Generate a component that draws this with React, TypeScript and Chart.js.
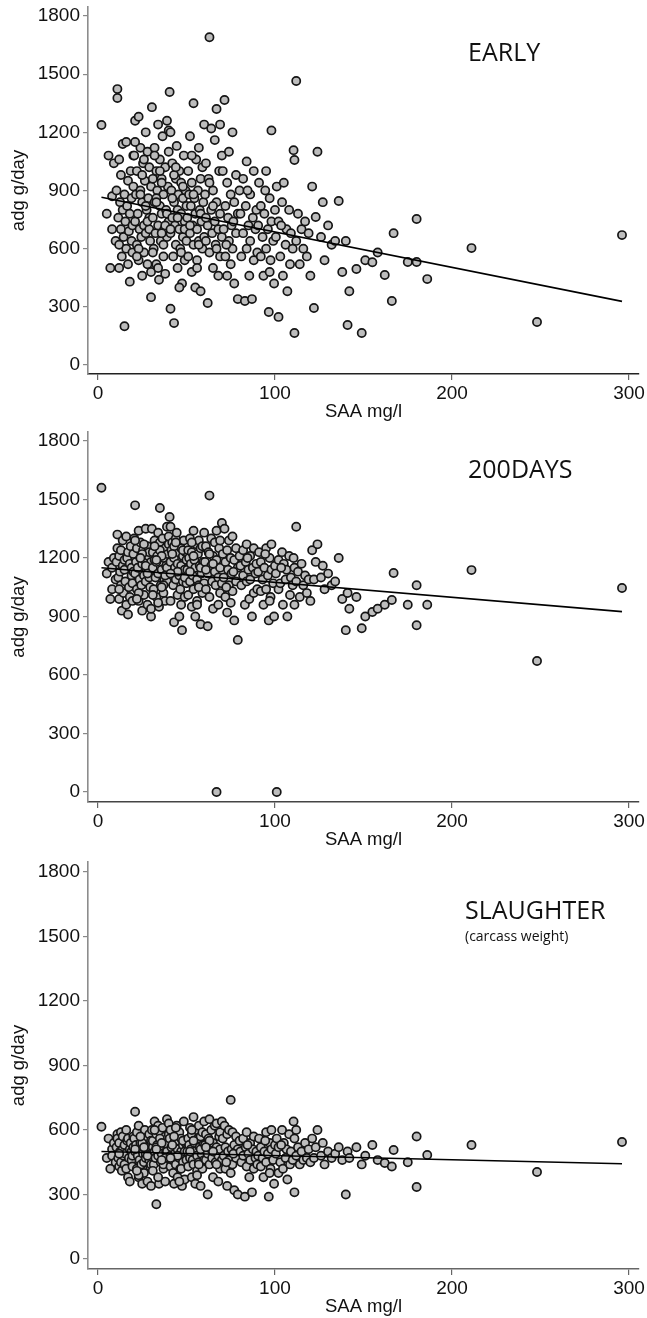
import React, { useEffect, useRef } from 'react';
import { Chart, registerables } from 'chart.js';

Chart.register(...registerables);

// SAA (mg/l) for each animal, shared by the three panels
const saa = [
  // 0-10
  2, 5, 6, 7, 8, 8, 9, 10,
  // 10-20
  10.5, 11, 11, 11.5, 12, 12, 12.5, 13, 13, 13.5, 14, 14, 14.5, 15, 15, 15.5, 16, 16, 16.5, 17, 17, 17.5, 18, 18, 18.5, 19, 19, 19.5, 19.5, 20, 20, 12,
  // 20-30
  20.5, 21, 21, 21.5, 22, 22, 22.5, 23, 23, 23.5, 24, 24, 24.5, 25, 25, 25.5, 26, 26, 26.5, 27, 27, 27.5, 28, 28, 28.5, 29, 29, 29.5, 30, 30, 21, 23, 25, 27, 29, 22, 24, 26, 28, 30,
  // 30-40
  30.5, 31, 31, 31.5, 32, 32, 32.5, 33, 33, 33.5, 34, 34, 34.5, 35, 35, 35.5, 36, 36, 36.5, 37, 37, 37.5, 38, 38, 38.5, 39, 39, 39.5, 40, 40, 31, 33, 35, 37, 39, 32, 34, 36, 38, 40, 33, 36,
  // 40-50
  40.5, 41, 41, 41.5, 42, 42, 42.5, 43, 43, 43.5, 44, 44, 44.5, 45, 45, 45.5, 46, 46, 46.5, 47, 47, 47.5, 48, 48, 48.5, 49, 49, 49.5, 50, 50, 41, 43, 45, 47, 49, 42, 44, 46, 48, 41,
  // 50-60
  50.5, 51, 51, 51.5, 52, 52, 52.5, 53, 53, 53.5, 54, 54, 54.5, 55, 55, 55.5, 56, 56, 56.5, 57, 57, 57.5, 58, 58, 58.5, 59, 59, 59.5, 60, 60, 52, 54, 56, 58, 53, 57,
  // 60-70
  60.5, 61, 61, 62, 62, 62.5, 63, 63, 64, 64, 64.5, 65, 65, 66, 66, 66.5, 67, 67, 68, 68, 68.5, 69, 69, 70, 70, 63, 65, 67, 69, 61,
  // 70-80
  70.5, 71, 71.5, 72, 72, 73, 73, 73.5, 74, 74, 75, 75, 75.5, 76, 76, 77, 77, 78, 78, 79, 79, 80, 72.5, 76.5,
  // 80-90
  80.5, 81, 82, 82, 83, 83.5, 84, 84, 85, 85.5, 86, 86, 87, 87.5, 88, 88, 89, 89.5, 90, 84.5,
  // 90-100
  90.5, 91, 92, 92, 93, 93.5, 94, 95, 95, 96, 96.5, 97, 97.5, 98, 98, 99, 99.5, 100, 94.5, 97,
  // 100-110
  100.5, 101, 102, 102, 103, 104, 104.5, 105, 106, 106.5, 107, 108, 108.5, 109, 110, 103.5,
  // 110-120
  110.5, 111, 111, 112, 112, 113, 114, 115, 116, 117, 118, 119, 120,
  // 120-140
  121, 122, 123, 124, 126, 127, 128, 130, 132, 134, 136, 138,
  // >140
  140, 141, 142, 146, 149, 151, 155, 158, 162, 166, 167, 175, 180, 180, 186, 211, 248, 296,
];

// adg g/day, EARLY
const adgEarly = [
  1238, 780, 1080, 500, 870, 700, 1040, 640,
  900, 1423, 1377, 760, 620, 1060, 840, 700, 980, 560, 800, 1140, 660, 200, 880, 740, 1150, 600, 820, 520, 950, 690, 780, 430, 1000, 640, 860, 720, 580, 1080, 920, 500,
  1080, 740, 1260, 880, 620, 1000, 780, 540, 1280, 700, 900, 1120, 660, 460, 840, 1040, 720, 580, 950, 1200, 680, 800, 1100, 520, 860, 760, 1020, 640, 920, 350, 1150, 600, 980, 820, 700, 560, 880, 1060, 740, 480,
  1330, 760, 960, 600, 1120, 840, 680, 1000, 520, 900, 1240, 720, 440, 820, 1060, 640, 960, 780, 1180, 560, 880, 700, 1020, 470, 800, 1260, 660, 920, 740, 1100, 580, 860, 1000, 620, 780, 1080, 500, 940, 720, 1210, 840, 680,
  1408, 680, 290, 900, 760, 1040, 560, 840, 216, 720, 960, 620, 1130, 800, 500, 880, 700, 1000, 600, 780, 940, 420, 860, 660, 1080, 740, 540, 900, 820, 640, 1200, 980, 760, 580, 700, 860, 1020, 400, 920, 700,
  760, 1000, 560, 880, 680, 1180, 820, 480, 940, 720, 1350, 620, 860, 400, 780, 1060, 700, 540, 900, 640, 1120, 800, 380, 960, 740, 600, 1020, 840, 660, 1240, 720, 880, 500, 780, 1080, 620,
  880, 640, 1040, 720, 320, 960, 580, 1690, 800, 1220, 680, 900, 500, 1160, 740, 620, 1320, 840, 460, 700, 1000, 560, 780, 1080, 660, 940, 820, 600, 1240, 760,
  1000, 700, 1367, 820, 560, 940, 460, 760, 640, 1100, 880, 520, 720, 1200, 600, 840, 420, 980, 680, 780, 340, 900, 620, 740,
  780, 560, 960, 680, 330, 820, 600, 1050, 720, 460, 880, 640, 340, 760, 540, 1000, 700, 800, 580, 900,
  720, 940, 560, 820, 660, 460, 780, 1000, 600, 700, 273, 860, 540, 1210, 740, 640, 420, 800, 900, 480,
  660, 920, 248, 740, 560, 840, 460, 940, 620, 700, 380, 800, 520, 680, 600, 720,
  1108, 165, 1057, 1465, 640, 780, 520, 700, 600, 740, 560, 680, 460,
  920, 294, 763, 1100, 660, 840, 540, 720, 620, 640, 846, 480,
  640, 206, 380, 495, 165, 540, 530, 580, 464, 330, 680, 531, 531, 753, 443, 603, 222, 670,
];

// adg g/day, 200DAYS
const adg200 = [
  1560, 1120, 1180, 990, 1150, 1040, 1200, 1090,
  1180, 1320, 1250, 1100, 990, 1210, 1130, 1060, 1240, 930, 1160, 1290, 1020, 1140, 1190, 1080, 1310, 960, 1200, 910, 1230, 1050, 1170, 1000, 1260, 1110, 1150, 1070, 980, 1220, 1130, 1040,
  1300, 1120, 1470, 1180, 1040, 1250, 1150, 980, 1340, 1090, 1200, 1280, 1060, 930, 1170, 1240, 1110, 1010, 1190, 1350, 1080, 1140, 1260, 960, 1210, 1130, 1230, 1050, 1180, 900, 1290, 1020, 1220, 1160, 1100, 990, 1200, 1270, 1120, 940,
  1350, 1150, 1230, 1040, 1290, 1190, 1100, 1260, 1000, 1210, 1330, 1120, 950, 1456, 1280, 1060, 1240, 1140, 1300, 1020, 1200, 1090, 1250, 980, 1160, 1360, 1080, 1220, 1130, 1270, 1010, 1180, 1240, 1060, 1150, 1260, 970, 1210, 1110, 1310, 1190, 1050,
  1410, 1180, 980, 1240, 1120, 1280, 1060, 1200, 870, 1150, 1300, 1090, 1330, 1170, 1010, 1230, 1110, 1270, 1040, 1160, 1250, 830, 1210, 1080, 1290, 1140, 1000, 1230, 1190, 1070, 1360, 1260, 1130, 960, 1100, 1220, 1280, 900, 1240, 1120,
  1140, 1240, 1010, 1200, 1080, 1300, 1170, 950, 1230, 1110, 1340, 1040, 1190, 900, 1150, 1270, 1090, 980, 1220, 1060, 1290, 1160, 860, 1250, 1120, 1020, 1260, 1180, 1070, 1330, 1130, 1210, 960, 1150, 1280, 1050,
  1180, 1040, 1260, 1120, 850, 1230, 1000, 1520, 1160, 1300, 1080, 1210, 940, 1280, 1130, 1060, 1340, 1190, 960, 1100, 1250, 1020, 1150, 1380, 1070, 1220, 1170, 0, 1290, 1140,
  1220, 1100, 1350, 1180, 1000, 1240, 920, 1140, 1060, 1290, 1200, 970, 1120, 1310, 1030, 1190, 880, 1250, 1080, 1150, 780, 1210, 1050, 1130,
  1160, 1060, 1240, 1110, 960, 1180, 1080, 1270, 1140, 990, 1210, 1090, 900, 1150, 1020, 1250, 1120, 1170, 1040, 1200,
  1130, 1230, 1030, 1180, 1090, 960, 1150, 1250, 1040, 1110, 880, 1200, 1000, 1270, 1140, 1070, 900, 1160, 1220, 980,
  1120, 0, 1040, 1190, 1070, 1230, 960, 1170, 1090, 1140, 900, 1210, 1010, 1100, 1060, 1150,
  1200, 960, 1150, 1360, 1080, 1130, 1000, 1170, 1060, 1110, 1020, 1090, 980,
  1240, 1090, 1180, 1270, 1100, 1160, 1040, 1120, 1060, 1080, 1200, 990,
  830, 1020, 940, 1000, 840, 900, 923, 940, 960, 985, 1123, 960, 1060, 855, 960, 1138, 672, 1046,
];

// adg g/day, SLAUGHTER (carcass weight)
const adgSlaughter = [
  615, 470, 560, 420, 510, 480, 540, 450,
  520, 580, 560, 470, 430, 540, 500, 450, 590, 410, 510, 570, 480, 440, 530, 490, 600, 420, 550, 380, 560, 470, 510, 360, 540, 460, 500, 480, 430, 570, 520, 490,
  560, 685, 500, 530, 420, 590, 480, 380, 620, 460, 540, 510, 440, 350, 570, 490, 450, 400, 600, 530, 470, 500, 560, 360, 520, 480, 580, 430, 550, 340, 510, 390, 540, 490, 460, 410, 570, 520, 480, 440,
  600, 520, 550, 440, 640, 500, 470, 580, 255, 530, 620, 480, 350, 510, 590, 450, 560, 490, 610, 420, 540, 460, 570, 360, 500, 650, 450, 530, 480, 580, 410, 520, 560, 440, 500, 600, 380, 540, 470, 630, 510, 460,
  560, 480, 430, 520, 460, 600, 400, 540, 350, 490, 580, 440, 620, 510, 380, 550, 470, 590, 420, 500, 560, 340, 530, 450, 640, 490, 370, 540, 510, 460, 600, 570, 480, 420, 500, 530, 610, 360, 550, 470,
  500, 560, 430, 530, 470, 610, 510, 380, 580, 460, 660, 440, 540, 350, 500, 600, 480, 410, 560, 450, 620, 520, 340, 570, 490, 420, 590, 530, 460, 640, 500, 550, 390, 510, 600, 440,
  530, 460, 580, 490, 300, 560, 440, 650, 510, 600, 470, 540, 380, 620, 500, 450, 630, 520, 360, 480, 570, 420, 510, 640, 460, 550, 500, 440, 590, 520,
  560, 480, 620, 520, 420, 580, 340, 500, 460, 600, 740, 400, 510, 590, 440, 530, 320, 570, 470, 510, 300, 550, 450, 490,
  500, 450, 560, 480, 290, 520, 430, 590, 490, 380, 540, 460, 310, 510, 420, 570, 470, 500, 440, 530,
  480, 560, 430, 520, 470, 380, 500, 590, 450, 490, 290, 540, 420, 600, 510, 460, 350, 530, 550, 400,
  490, 560, 400, 520, 450, 600, 420, 540, 470, 510, 370, 580, 440, 500, 460, 530,
  640, 310, 560, 600, 480, 520, 440, 500, 460, 540, 470, 510, 450,
  560, 470, 520, 600, 480, 540, 440, 500, 470, 490, 520, 460,
  300, 500, 470, 520, 440, 480, 530, 460, 446, 430, 507, 450, 570, 335, 484, 530, 405, 544,
];

// fitted regression lines (end points)
const fitSaa = [2, 296];
const fitEarly = [865, 328];
const fit200 = [1150, 925];
const fitSlaughter = [500, 443];

const yTicks = [0, 300, 600, 900, 1200, 1500, 1800];
const xTicks = [0, 100, 200, 300];
const panelTitles = ['EARLY', '200DAYS', 'SLAUGHTER'];
const panelSubtitles = ['', '', '(carcass weight)'];

const TICK_FONT = '"Liberation Sans", Arial, sans-serif';
const TITLE_FONT = '"Open Sans", sans-serif';

type PanelProps = {
  values: number[];
  fit: number[];
  top: number;
  height: number;
  padTop: number;
  yMin: number;
  yMax: number;
  title: string;
  subtitle: string;
  titleX: number;
  titleBase: number;
  subBase: number;
  xBorder: string;
};

function Panel(p: PanelProps) {
  const ref = useRef<HTMLCanvasElement | null>(null);
  useEffect(() => {
    if (!ref.current) return;
    const titlePlugin = {
      id: 'panelTitle',
      afterDraw(chart: any) {
        const ctx = chart.ctx;
        ctx.save();
        ctx.fillStyle = '#111';
        ctx.textBaseline = 'alphabetic';
        ctx.textAlign = 'left';
        ctx.font = `25px ${TITLE_FONT}`;
        ctx.fillText(p.title, p.titleX, p.titleBase);
        if (p.subtitle) {
          ctx.font = `14px ${TITLE_FONT}`;
          ctx.fillText(p.subtitle, p.titleX, p.subBase);
        }
        ctx.restore();
      },
    };
    const chart = new Chart(ref.current, {
      type: 'scatter',
      data: {
        datasets: [
          {
            type: 'line',
            data: fitSaa.map((x, i) => ({ x, y: p.fit[i] })),
            borderColor: '#000',
            borderWidth: 1.6,
            pointRadius: 0,
            fill: false,
            order: 0,
          } as any,
          {
            type: 'scatter',
            data: saa.map((x, i) => ({ x, y: p.values[i] })),
            pointRadius: 4.1,
            pointBackgroundColor: '#bdbdbd',
            pointBorderColor: '#151515',
            pointBorderWidth: 1.7,
            order: 1,
          } as any,
        ],
      },
      options: {
        animation: false,
        responsive: false,
        maintainAspectRatio: false,
        events: [],
        layout: { padding: { top: p.padTop, right: 8, left: 0, bottom: 0 } },
        plugins: {
          legend: { display: false },
          tooltip: { enabled: false },
          title: { display: false },
        },
        scales: {
          x: {
            type: 'linear',
            min: -5.6,
            max: 305.6,
            afterBuildTicks: (s: any) => {
              s.ticks = xTicks.map((v) => ({ value: v }));
            },
            afterFit: (s: any) => {
              s.height = 49;
              s.paddingLeft = 0;
              s.paddingRight = 0;
            },
            grid: { drawOnChartArea: false, drawTicks: true, tickLength: 6, color: '#666', lineWidth: 1.2 },
            border: { display: true, color: p.xBorder, width: 1.6 },
            ticks: {
              font: { family: TICK_FONT, size: 19 },
              color: '#111',
              padding: 2,
              maxRotation: 0,
              autoSkip: false,
              callback: (v: any) => String(v),
            },
            title: {
              display: true,
              text: 'SAA mg/l',
              font: { family: TICK_FONT, size: 18.5 },
              color: '#111',
              padding: { top: 0, bottom: 0 },
            },
          },
          y: {
            type: 'linear',
            min: p.yMin,
            max: p.yMax,
            afterBuildTicks: (s: any) => {
              s.ticks = yTicks.map((v) => ({ value: v }));
            },
            afterFit: (s: any) => {
              s.width = 88;
              s.paddingTop = 0;
              s.paddingBottom = 0;
            },
            grid: { drawOnChartArea: false, drawTicks: true, tickLength: 5, color: '#888', lineWidth: 1.2 },
            border: { display: true, color: '#8c8c8c', width: 1.6 },
            ticks: {
              font: { family: TICK_FONT, size: 19 },
              color: '#111',
              padding: 3,
              autoSkip: false,
              callback: (v: any) => String(v),
            },
            title: {
              display: true,
              text: 'adg g/day',
              font: { family: TICK_FONT, size: 18.5 },
              color: '#111',
              padding: { top: 8, bottom: 0 },
            },
          },
        },
      } as any,
      plugins: [titlePlugin],
    });
    return () => chart.destroy();
  }, []);
  return (
    <canvas
      ref={ref}
      width={647}
      height={p.height}
      style={{ position: 'absolute', left: 0, top: p.top, width: 647, height: p.height, display: 'block' }}
    />
  );
}

export default function App() {
  return (
    <div style={{ position: 'absolute', left: 0, top: 0, width: 647, height: 1318, background: '#fff' }}>
      <Panel
        values={adgEarly}
        fit={fitEarly}
        top={0}
        height={423}
        padTop={7}
        yMin={-46.4}
        yMax={1846.4}
        title={panelTitles[0]}
        subtitle={panelSubtitles[0]}
        titleX={468}
        titleBase={61}
        subBase={0}
        xBorder="#222"
      />
      <Panel
        values={adg200}
        fit={fit200}
        top={423}
        height={428}
        padTop={9}
        yMin={-51}
        yMax={1846}
        title={panelTitles[1]}
        subtitle={panelSubtitles[1]}
        titleX={468}
        titleBase={55}
        subBase={0}
        xBorder="#444"
      />
      <Panel
        values={adgSlaughter}
        fit={fitSlaughter}
        top={851}
        height={467}
        padTop={11}
        yMin={-46.5}
        yMax={1846.5}
        title={panelTitles[2]}
        subtitle={panelSubtitles[2]}
        titleX={465}
        titleBase={68}
        subBase={90}
        xBorder="#666"
      />
    </div>
  );
}
